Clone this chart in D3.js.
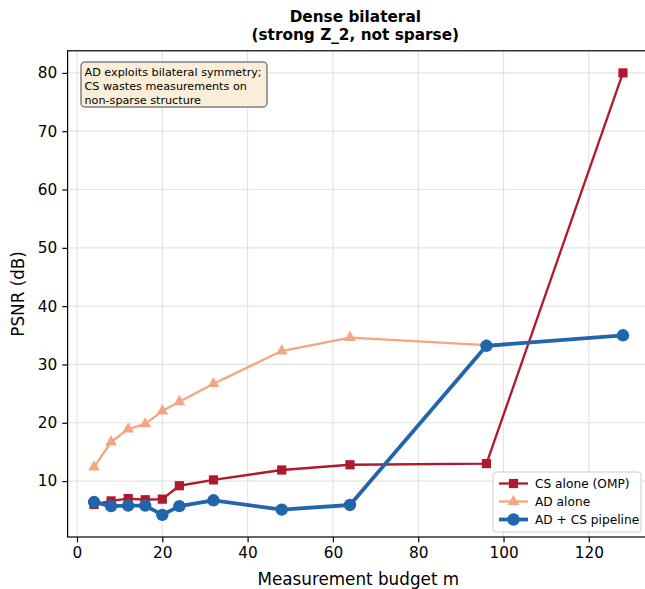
<!DOCTYPE html>
<html><head><meta charset="utf-8">
<script src="https://cdn.jsdelivr.net/npm/d3@7"></script>
<style>body{margin:0;background:#fff}text{font-family:"DejaVu Sans",sans-serif}</style>
</head><body><svg id="c" width="645" height="589"></svg>
<script>
const budgets = [4, 8, 12, 16, 20, 24, 32, 48, 64, 96, 128];
const csAlone = [6.0, 6.6, 7.0, 6.8, 6.9, 9.2, 10.2, 11.9, 12.8, 13.0, 80.0];
const adAlone = [12.4, 16.7, 18.9, 19.8, 22.0, 23.6, 26.7, 32.3, 34.6, 33.3, 35.0];
const pipeline = [6.4, 5.7, 5.8, 5.8, 4.2, 5.7, 6.7, 5.1, 5.9, 33.2, 35.0];
const xTicks = [0, 20, 40, 60, 80, 100, 120];
const yTicks = [10, 20, 30, 40, 50, 60, 70, 80];
const seriesNames = ["CS alone (OMP)", "AD alone", "AD + CS pipeline"];
const seriesColors = ["#b2182b", "#f4a582", "#2166ac"];
const titleLines = ["Dense bilateral", "(strong Z_2, not sparse)"];
const noteLines = ["AD exploits bilateral symmetry;", "CS wastes measurements on", "non-sparse structure"];

const svg = d3.select("#c");
const L = 67.6, R = 649.4, T = 50.8, B = 537.0;
const x = d3.scaleLinear().domain([-2.2, 134.2]).range([L, R]);
const y = d3.scaleLinear().domain([0.41, 83.79]).range([B, T]);

// grid
const g = svg.append("g");
g.selectAll(".gx").data(xTicks).join("line")
  .attr("x1", d => x(d)).attr("x2", d => x(d)).attr("y1", T).attr("y2", B)
  .attr("stroke", "#e3e3e3").attr("stroke-width", 1.2);
g.selectAll(".gy").data(yTicks).join("line")
  .attr("y1", d => y(d)).attr("y2", d => y(d)).attr("x1", L).attr("x2", R)
  .attr("stroke", "#e3e3e3").attr("stroke-width", 1.2);

// axes
const xAxis = svg.append("g").attr("transform", `translate(0,${B})`)
  .call(d3.axisBottom(x).tickValues(xTicks).tickSize(5.3).tickPadding(5).tickFormat(d3.format("d")));
const yAxis = svg.append("g").attr("transform", `translate(${L},0)`)
  .call(d3.axisLeft(y).tickValues(yTicks).tickSize(5.3).tickPadding(5).tickFormat(d3.format("d")));
[xAxis, yAxis].forEach(a => {
  a.select(".domain").remove();
  a.selectAll("line").attr("stroke", "#000").attr("stroke-width", 1.2);
  a.selectAll("text").attr("font-size", 15.3).attr("fill", "#000").style("font-family", "DejaVu Sans");
});
// spines
svg.append("rect").attr("x", L).attr("y", T).attr("width", R - L).attr("height", B - T)
  .attr("fill", "none").attr("stroke", "#000").attr("stroke-width", 1.2);

// series
const series = [csAlone, adAlone, pipeline];
const widths = [2.3, 2.3, 3.8];
const line = d3.line().x((d, i) => x(budgets[i])).y(d => y(d));
const plot = svg.append("g");
function marker(sel, k, cx, cy) {
  const c = seriesColors[k];
  if (k === 0) sel.append("rect").attr("x", cx - 4.6).attr("y", cy - 4.6).attr("width", 9.2).attr("height", 9.2).attr("fill", c);
  else if (k === 1) sel.append("path").attr("d", d3.symbol(d3.symbolTriangle, 60)()).attr("transform", `translate(${cx},${cy})`).attr("fill", c);
  else sel.append("circle").attr("cx", cx).attr("cy", cy).attr("r", 6.2).attr("fill", c);
}
series.forEach((s, k) => {
  const gg = plot.append("g");
  gg.append("path").attr("d", line(s)).attr("fill", "none").attr("stroke", seriesColors[k])
    .attr("stroke-width", widths[k]).attr("stroke-linejoin", "round").attr("stroke-linecap", "round");
  s.forEach((v, i) => marker(gg, k, x(budgets[i]), y(v)));
});

// title
svg.append("g").selectAll("text").data(titleLines).join("text")
  .attr("x", (L + 643) / 2).attr("y", (d, i) => 22 + i * 18)
  .attr("text-anchor", "middle").attr("font-size", 15.3).attr("font-weight", "bold").text(d => d);

// axis labels
svg.append("text").attr("x", (L + 643) / 2 + 3).attr("y", 585).attr("text-anchor", "middle")
  .attr("font-size", 16.8).text("Measurement budget m");
svg.append("text").attr("transform", `translate(24,${(T + B) / 2}) rotate(-90)`).attr("text-anchor", "middle")
  .attr("font-size", 16.8).text("PSNR (dB)");

// annotation
svg.append("rect").attr("x", 81).attr("y", 62).attr("width", 186).attr("height", 45).attr("rx", 4)
  .attr("fill", "#faeed9").attr("stroke", "#808080").attr("stroke-width", 1.5);
svg.append("g").selectAll("text").data(noteLines).join("text")
  .attr("x", 84.5).attr("y", (d, i) => 75.5 + i * 14).attr("font-size", 11.2).text(d => d);

// legend
const lg = svg.append("g");
lg.append("rect").attr("x", 493).attr("y", 472).attr("width", 148).attr("height", 60).attr("rx", 3)
  .attr("fill", "#fff").attr("fill-opacity", 0.8).attr("stroke", "#cccccc").attr("stroke-width", 1);
seriesNames.forEach((n, k) => {
  const yy = 483.5 + k * 18;
  lg.append("line").attr("x1", 499).attr("x2", 528).attr("y1", yy).attr("y2", yy)
    .attr("stroke", seriesColors[k]).attr("stroke-width", widths[k]);
  marker(lg, k, 513.5, yy);
  lg.append("text").attr("x", 535).attr("y", yy + 4.3).attr("font-size", 12.2).text(n);
});
</script></body></html>
